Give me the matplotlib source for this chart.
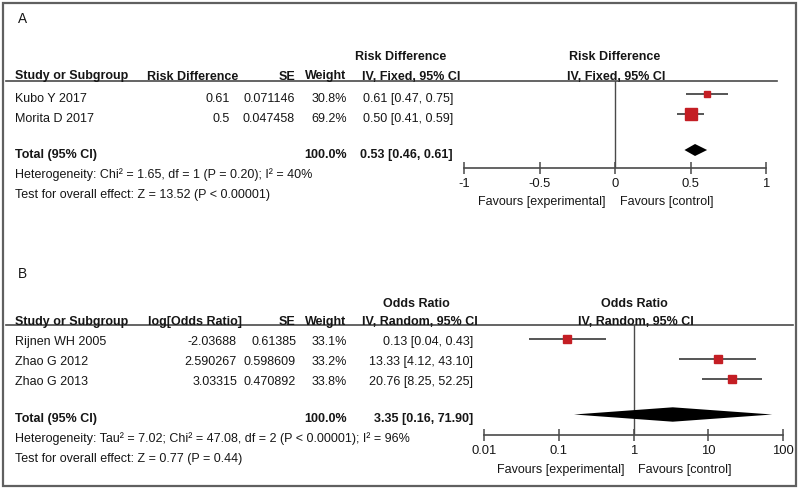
import matplotlib
matplotlib.use("Agg")
import matplotlib.pyplot as plt
from matplotlib.patches import Rectangle
import numpy as np

plt.rcParams['font.family'] = ['Liberation Sans', 'DejaVu Sans']

# ---------------- data: panel A ----------------
studies_A = ["Kubo Y 2017", "Morita D 2017"]
rd_labels_A = ["0.61", "0.5"]
se_labels_A = ["0.071146", "0.047458"]
weight_A = [30.8, 69.2]
est_A = [0.61, 0.50]
lo_A = [0.47, 0.41]
hi_A = [0.75, 0.59]
total_weight_A = 100.0
total_A = [0.53, 0.46, 0.61]
het_A = "Heterogeneity: Chi² = 1.65, df = 1 (P = 0.20); I² = 40%"
test_A = "Test for overall effect: Z = 13.52 (P < 0.00001)"
ticks_A = [-1, -0.5, 0, 0.5, 1]
ticklabels_A = ["-1", "-0.5", "0", "0.5", "1"]

# ---------------- data: panel B ----------------
studies_B = ["Rijnen WH 2005", "Zhao G 2012", "Zhao G 2013"]
lor_labels_B = ["-2.03688", "2.590267", "3.03315"]
se_labels_B = ["0.61385", "0.598609", "0.470892"]
weight_B = [33.1, 33.2, 33.8]
est_B = [0.13, 13.33, 20.76]
lo_B = [0.04, 4.12, 8.25]
hi_B = [0.43, 43.10, 52.25]
total_weight_B = 100.0
total_B = [3.35, 0.16, 71.90]
het_B = "Heterogeneity: Tau² = 7.02; Chi² = 47.08, df = 2 (P < 0.00001); I² = 96%"
test_B = "Test for overall effect: Z = 0.77 (P = 0.44)"
ticks_B = [0.01, 0.1, 1, 10, 100]
ticklabels_B = ["0.01", "0.1", "1", "10", "100"]

# ---------------- style ----------------
W, H = 800, 490
FS = 9.0
TXT = '#161616'
LINE = '#4a4a4a'
RED = '#c41e24'
CI_COL = '#555555'

fig = plt.figure(figsize=(W / 100, H / 100), dpi=100)
bg = fig.add_axes([0, 0, 1, 1])
bg.set_xlim(0, W)
bg.set_ylim(H, 0)
bg.axis('off')

bg.add_patch(Rectangle((3, 3), 793, 483, fill=False, ec='#606060', lw=1.6))


def t(x, yc, s, ha='left', bold=False, size=FS, color=TXT):
    # yc is the visual centre of capitals; place baseline below it
    bg.text(x, yc + size * 0.50, s, ha=ha, va='baseline', fontsize=size,
            fontweight='bold' if bold else 'normal', color=color)


def add_forest(l, r, top, bot, ylo, yhi):
    ax = fig.add_axes([l / W, 1 - bot / H, (r - l) / W, (bot - top) / H])
    ax.set_ylim(yhi, ylo)
    ax.patch.set_alpha(0)
    for s in ('top', 'left', 'right'):
        ax.spines[s].set_visible(False)
    ax.spines['bottom'].set_color(LINE)
    ax.spines['bottom'].set_linewidth(1.2)
    ax.set_yticks([])
    ax.tick_params(axis='x', direction='inout', length=9, width=1.1,
                   color=LINE, pad=3.0, labelsize=9.4, labelcolor=TXT)
    return ax


def side_px(w):
    return 2.5 + 0.137 * w


def draw_panel(ax, est, lo, hi, weights, total, zero, dh):
    n = len(est)
    rows = np.arange(n)
    for k in range(n):
        ax.plot([lo[k], hi[k]], [rows[k], rows[k]], color=CI_COL, lw=1.4,
                solid_capstyle='butt', zorder=2)
        ax.plot(est[k], rows[k], marker='s', ms=side_px(weights[k]) * 0.72,
                color=RED, mec=RED, zorder=3)
    yt = n - 1 + 1.8
    e, a, b = total
    ax.fill([a, e, b, e], [yt, yt - dh, yt, yt + dh], color='black', lw=0, zorder=3)
    ax.axvline(zero, color=LINE, lw=1.0, zorder=1)
    return yt


# ================= Panel A =================
t(18, 18, "A", size=9.8)
t(401, 56, "Risk Difference", ha='center', bold=True)
t(615, 55, "Risk Difference", ha='center', bold=True)
hy = 75
t(15, hy, "Study or Subgroup", bold=True)
t(147, hy, "Risk Difference", bold=True)
t(295, hy, "SE", ha='right', bold=True)
t(346, hy, "Weight", ha='right', bold=True)
t(411, hy, "IV, Fixed, 95% CI", ha='center', bold=True)
t(616, hy, "IV, Fixed, 95% CI", ha='center', bold=True)
bg.plot([6, 777], [81, 81], color=LINE, lw=1.2)

for k, name in enumerate(studies_A):
    yc = 97 + 20 * k
    t(15, yc, name)
    t(230, yc, rd_labels_A[k], ha='right')
    t(295, yc, se_labels_A[k], ha='right')
    t(347, yc, f"{weight_A[k]:.1f}%", ha='right')
    t(453, yc, f"{est_A[k]:.2f} [{lo_A[k]:.2f}, {hi_A[k]:.2f}]", ha='right')
t(15, 153, "Total (95% CI)", bold=True)
t(347, 153, f"{total_weight_A:.1f}%", ha='right', bold=True)
t(453, 153, f"{total_A[0]:.2f} [{total_A[1]:.2f}, {total_A[2]:.2f}]", ha='right', bold=True)
t(15, 173, het_A)
t(15, 193, test_A)

axA = add_forest(464, 766, 81, 168, -0.65, 3.7)
axA.set_xlim(-1, 1)
axA.set_xticks(ticks_A)
axA.set_xticklabels(ticklabels_A)
draw_panel(axA, est_A, lo_A, hi_A, weight_A, total_A, 0, 0.3)
axA.annotate("Favours [experimental]", xy=(0, 0), xycoords=('data', 'axes fraction'),
             xytext=(-9, -34), textcoords='offset pixels', ha='right', va='center',
             fontsize=FS, color=TXT)
axA.annotate("Favours [control]", xy=(0, 0), xycoords=('data', 'axes fraction'),
             xytext=(5, -34), textcoords='offset pixels', ha='left', va='center',
             fontsize=FS, color=TXT)

# ================= Panel B =================
t(18, 273, "B", size=9.8)
t(416, 302, "Odds Ratio", ha='center', bold=True)
t(634, 302, "Odds Ratio", ha='center', bold=True)
hy = 320
t(15, hy, "Study or Subgroup", bold=True)
t(148, hy, "log[Odds Ratio]", bold=True)
t(295, hy, "SE", ha='right', bold=True)
t(346, hy, "Weight", ha='right', bold=True)
t(478, hy, "IV, Random, 95% CI", ha='right', bold=True)
t(636, hy, "IV, Random, 95% CI", ha='center', bold=True)
bg.plot([6, 793], [325, 325], color=LINE, lw=1.2)

for k, name in enumerate(studies_B):
    yc = 340 + 20 * k
    t(15, yc, name)
    t(237, yc, lor_labels_B[k], ha='right')
    t(296, yc, se_labels_B[k], ha='right')
    t(347, yc, f"{weight_B[k]:.1f}%", ha='right')
    t(473, yc, f"{est_B[k]:.2f} [{lo_B[k]:.2f}, {hi_B[k]:.2f}]", ha='right')
t(15, 417, "Total (95% CI)", bold=True)
t(347, 417, f"{total_weight_B:.1f}%", ha='right', bold=True)
t(473, 417, f"{total_B[0]:.2f} [{total_B[1]:.2f}, {total_B[2]:.2f}]", ha='right', bold=True)
t(15, 437, het_B)
t(15, 457, test_B)

axB = add_forest(484, 783, 325, 435, -0.675, 4.825)
axB.set_xscale('log')
axB.set_xlim(0.01, 100)
axB.set_xticks(ticks_B)
axB.set_xticklabels(ticklabels_B)
axB.minorticks_off()
draw_panel(axB, est_B, lo_B, hi_B, weight_B, total_B, 1, 0.36)
axB.annotate("Favours [experimental]", xy=(1, 0), xycoords=('data', 'axes fraction'),
             xytext=(-9, -35), textcoords='offset pixels', ha='right', va='center',
             fontsize=FS, color=TXT)
axB.annotate("Favours [control]", xy=(1, 0), xycoords=('data', 'axes fraction'),
             xytext=(5, -35), textcoords='offset pixels', ha='left', va='center',
             fontsize=FS, color=TXT)

fig.savefig("out.png", dpi=100)
